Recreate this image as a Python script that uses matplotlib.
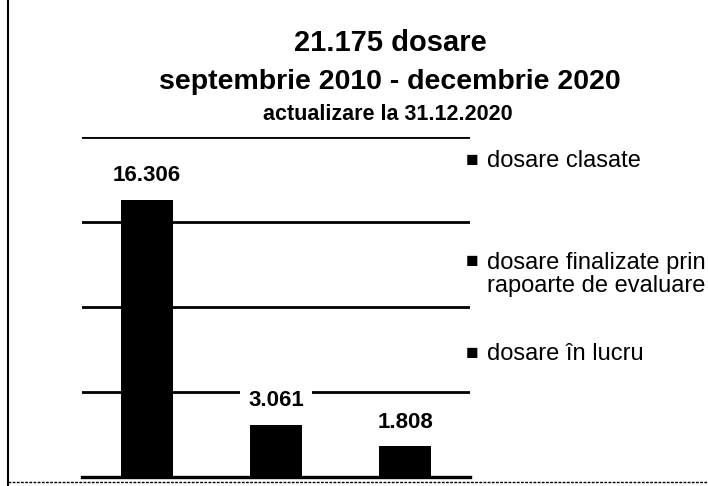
import matplotlib.pyplot as plt
from matplotlib import font_manager

categorii = ['dosare clasate', 'dosare finalizate prin\nrapoarte de evaluare', 'dosare în lucru']
valori = [16306, 3061, 1808]
etichete = ['16.306', '3.061', '1.808']

names = {f.name for f in font_manager.fontManager.ttflist}
fam = 'Liberation Sans Narrow' if 'Liberation Sans Narrow' in names else 'Liberation Sans'
plt.rcParams['font.family'] = [fam, 'DejaVu Sans']

fig = plt.figure(figsize=(7.08, 4.86), dpi=100)
ax = fig.add_axes([82/708, 1 - 477/486, 388/708, 340/486])

x = range(len(valori))
ax.bar(x, valori, width=0.4, color='black', zorder=3)
for i, v in enumerate(valori):
    # eticheta cu fundal alb, intrerupe liniile de grila
    ax.text(i, v + 800, etichete[i], ha='center', va='bottom', fontsize=16, fontweight='bold',
            zorder=4, bbox=dict(facecolor='white', edgecolor='none', pad=6))

ax.set_xlim(-0.5, 2.5)
ax.set_ylim(0, 20000)
ax.set_yticks([0, 5000, 10000, 15000, 20000])
ax.grid(axis='y', color='black', linewidth=2, zorder=1)
ax.set_xticks([])
ax.tick_params(left=False, labelleft=False)
for s in ['left', 'right', 'top']:
    ax.spines[s].set_visible(False)
ax.spines['bottom'].set_linewidth(2.4)

# titluri
fig.text(390/708, 1 - 43/486, '21.175 dosare', ha='center', va='center', fontsize=21, fontweight='bold')
fig.text(390/708, 1 - 82/486, 'septembrie 2010 - decembrie 2020', ha='center', va='center', fontsize=20.5, fontweight='bold')
fig.text(388/708, 1 - 114/486, 'actualizare la 31.12.2020', ha='center', va='center', fontsize=15.5, fontweight='bold')

# legenda
leg_y = [160, 262, 353]
for lab, yy in zip(categorii, leg_y):
    fig.text(466/708, 1 - yy/486, '■', ha='left', va='center', fontsize=15)
    fig.text(487/708, 1 - (yy - 10)/486, lab, ha='left', va='top', fontsize=17, linespacing=1.05)

# chenar scanat
fig.add_artist(plt.Line2D([8/708, 8/708], [0, 1], color='black', linewidth=1.5))
fig.add_artist(plt.Line2D([8/708, 1], [1 - 482/486, 1 - 482/486], color='black', linewidth=1, linestyle=(0, (2, 1))))

fig.savefig('out.png', dpi=100)
